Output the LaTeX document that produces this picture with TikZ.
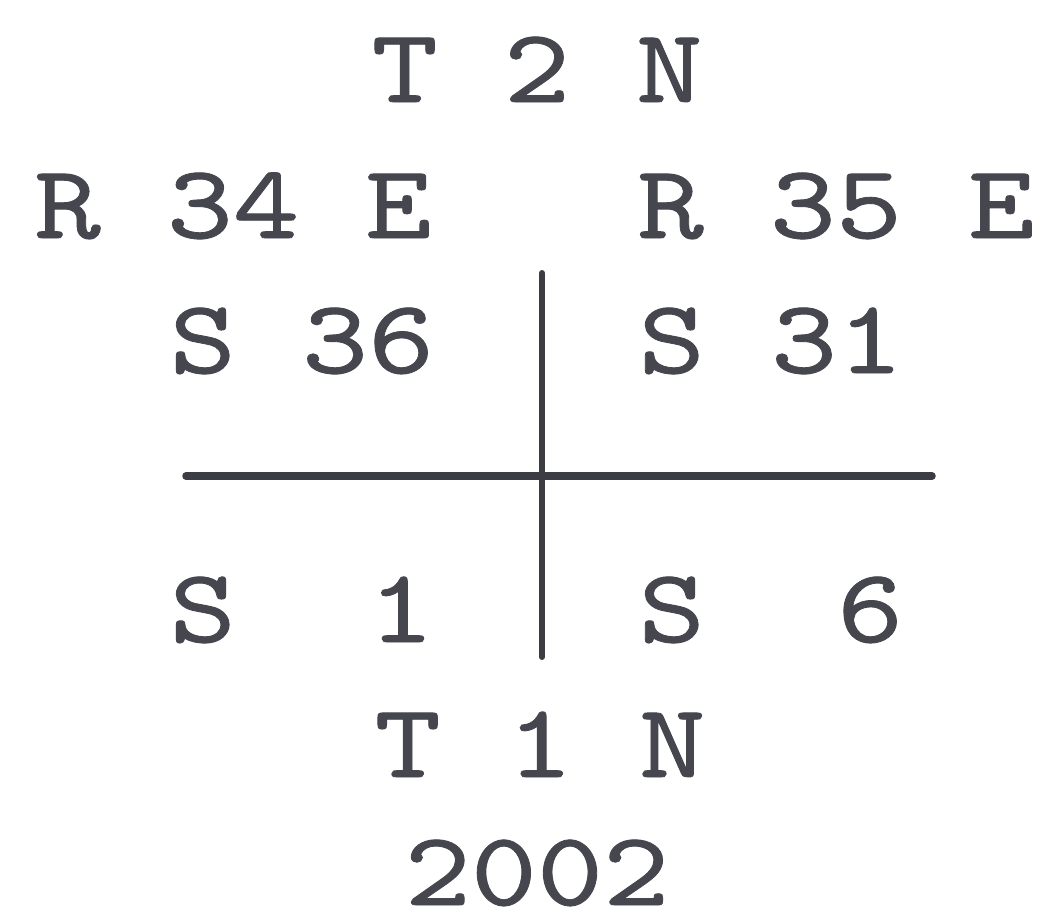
\documentclass[tikz,border=0pt]{standalone}
\usepackage{fontspec}
\usepackage{tikz}
\newfontfamily\stampfont{lmmono10-regular.otf}[FakeStretch=1.2,FakeBold=0.8]
\definecolor{Ink}{HTML}{45464E}
\definecolor{Rule}{HTML}{3B3C44}

\begin{document}
\begin{tikzpicture}[x=1pt,y=-1pt,
    lbl/.style={anchor=base,inner sep=0pt,text=Ink,
      font=\stampfont\fontsize{105}{105}\selectfont},
    cross/.style={Rule,line cap=round}]
  \useasboundingbox (0,0) rectangle (1049,918);
  % township / range labels
  \node[lbl] (t2n) at (537,102) {T 2 N};
  \node[lbl] (r34) at (233,238) {R 34 E};
  \node[lbl] (r35) at (836,238) {R 35 E};
  % section numbers
  \node[lbl] (s36) at (302,373) {S 36};
  \node[lbl] (s31) at (771,373) {S 31};
  \node[lbl] (s1) at (302,642) {S\ \ 1};
  \node[lbl] (s6) at (771,642) {S\ \ 6};
  \node[lbl] (t1n) at (540,777) {T 1 N};
  \node[lbl] (year) at (537,905) {2002};
  % corner cross
  \draw[cross,line width=7.5pt] (186,476) -- (932,476);
  \draw[cross,line width=6pt] (542,273) -- (542,657);
\end{tikzpicture}
\end{document}
